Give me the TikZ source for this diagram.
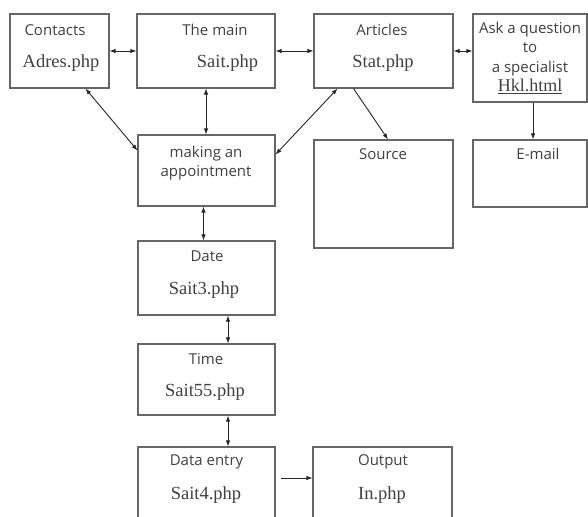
\documentclass[tikz,border=0pt]{standalone}
\usepackage{fontspec}
\setmainfont{Open Sans}
\newfontfamily\phpfont{Liberation Serif}
\usetikzlibrary{arrows.meta}

\begin{document}
\begin{tikzpicture}[x=1pt, y=-1pt, >={Latex[length=6pt,width=4.5pt]},
  main/.style = {draw=black!60, line width=1.1pt, rectangle, inner sep=0pt},
  word/.style = {text=black!75, font=\fontsize{15}{19.5}\selectfont, inner sep=0pt, align=center},
  file/.style = {text=black!75, font=\phpfont\fontsize{18.5}{20}\selectfont, inner sep=0pt},
  link/.style = {draw=black!85, line width=0.9pt}]
\useasboundingbox (0,0) rectangle (588,516);
\clip (0,0) rectangle (588,516);
% boxes
\node[main, minimum width=99, minimum height=74] (1) at (59.5,51) {};
\node[main, minimum width=138, minimum height=74] (2) at (206,51) {};
\node[main, minimum width=139, minimum height=74] (3) at (383.5,51) {};
\node[main, minimum width=114, minimum height=88] (4) at (530,58) {};
\node[main, minimum width=137, minimum height=71] (5) at (206.5,170.5) {};
\node[main, minimum width=139, minimum height=108] (6) at (383.5,194) {};
\node[main, minimum width=114, minimum height=67] (7) at (530,173.5) {};
\node[main, minimum width=137, minimum height=74] (8) at (206.5,278) {};
\node[main, minimum width=137, minimum height=71] (9) at (206.5,379.5) {};
\node[main, minimum width=137, minimum height=80] (10) at (206.5,487) {};
\node[main, minimum width=139, minimum height=80] (11) at (382.5,487) {};
% texts
\node[word] (1a) at (55,30) {Contacts};
\node[file] (1b) at (61,63) {Adres.php};
\node[word] (2a) at (215,30) {The main};
\node[file] (2b) at (227.5,63) {Sait.php};
\node[word] (3a) at (382,30) {Articles};
\node[file] (3b) at (383,63) {Stat.php};
\node[word] (4a) at (530,58) {Ask a question\\to\\a specialist\\{\phpfont\fontsize{18}{20}\selectfont\underline{Hkl.html}}};
\node[word] (5a) at (206,163) {making an\\appointment};
\node[word] (6a) at (383,154) {Source};
\node[word] (7a) at (538,154) {E-mail};
\node[word] (8a) at (207,256) {Date};
\node[file] (8b) at (204,290) {Sait3.php};
\node[word] (9a) at (206,359) {Time};
\node[file] (9b) at (205,392) {Sait55.php};
\node[word] (10a) at (206.5,462) {Data entry};
\node[file] (10b) at (206,495) {Sait4.php};
\node[word] (11a) at (383,462) {Output};
\node[file] (11b) at (382,495) {In.php};
% connectors
\draw[link, <->] (1.east) -- (2.west);
\draw[link, <->] (2.east) -- (3.west);
\draw[link, <->] (3.east) -- (3.east -| 4.west);
\draw[link, <->] ([xshift=26pt]1.south) -- ([yshift=20pt]5.west);
\draw[link, <->] (2.south) -- (2.south |- 5.north);
\draw[link, <->] ([yshift=16pt]5.east) -- ([xshift=-46pt]3.south);
\draw[link, ->] ([xshift=-30pt]3.south) -- ([xshift=4.5pt]6.north);
\draw[link, ->] ([xshift=3pt]4.south) -- ([xshift=3pt]7.north);
\draw[link, <->] ([xshift=-3pt]5.south) -- ([xshift=-3pt]8.north);
\draw[link, <->] ([xshift=21.5pt]8.south) -- ([xshift=21.5pt]9.north);
\draw[link, <->] ([xshift=21.5pt]9.south) -- ([xshift=21.5pt]10.north);
\draw[link, ->] ([shift={(5pt,9pt)}]10.east) -- ([yshift=9pt]11.west);
\end{tikzpicture}
\end{document}
